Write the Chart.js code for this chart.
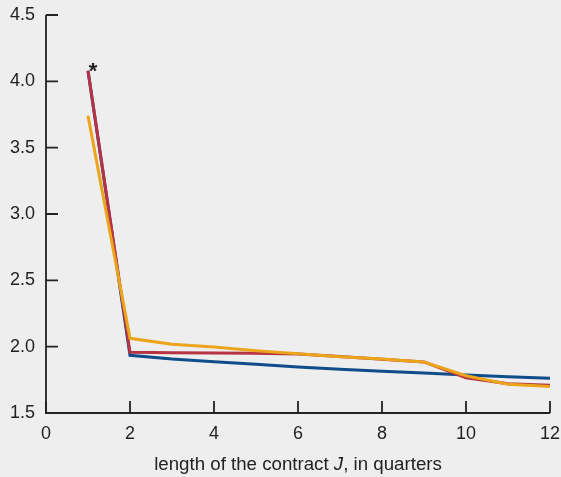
<!DOCTYPE html>
<html>
<head>
<meta charset="utf-8">
<script src="https://cdn.jsdelivr.net/npm/chart.js@4"></script>
<style>
html,body{margin:0;padding:0;background:#eeeeee;}
#wrap{width:561px;height:477px;position:relative;}
</style>
</head>
<body>
<div id="wrap"><canvas id="c" width="561" height="477"></canvas></div>
<script>
const quarters = [1, 2, 3, 4, 5, 6, 7, 8, 9, 10, 11, 12];
const blueSeries   = [4.08, 1.935, 1.907, 1.887, 1.867, 1.847, 1.829, 1.814, 1.801, 1.786, 1.774, 1.762];
const redSeries    = [4.08, 1.957, 1.955, 1.952, 1.950, 1.945, 1.925, 1.905, 1.885, 1.766, 1.720, 1.710];
const yellowSeries = [3.74, 2.063, 2.018, 1.997, 1.970, 1.947, 1.924, 1.907, 1.884, 1.781, 1.716, 1.700];
const xTicks = [0, 2, 4, 6, 8, 10, 12];
const yTicks = [1.5, 2.0, 2.5, 3.0, 3.5, 4.0, 4.5];
const xTitleParts = ['length of the contract ', 'J', ', in quarters'];
const markerText = '*';

const FONT = '"Liberation Sans", Arial, sans-serif';
const toPts = arr => quarters.map((q, i) => ({x: q, y: arr[i]}));

const inwardTicks = {
  id: 'inwardTicks',
  afterDraw(chart) {
    const {ctx, scales: {x, y}, chartArea: a} = chart;
    ctx.save();
    ctx.strokeStyle = '#222';
    ctx.lineWidth = 1.8;
    ctx.beginPath();
    xTicks.forEach(v => { const px = x.getPixelForValue(v); ctx.moveTo(px, a.bottom); ctx.lineTo(px, a.bottom - 12); });
    yTicks.forEach(v => { const py = y.getPixelForValue(v); ctx.moveTo(a.left, py); ctx.lineTo(a.left + 12, py); });
    ctx.stroke();
    ctx.beginPath();
    ctx.moveTo(a.left, a.top); ctx.lineTo(a.left, a.bottom); ctx.lineTo(a.right, a.bottom);
    ctx.stroke();
    // asterisk
    ctx.fillStyle = '#222';
    ctx.font = 'bold 22px ' + FONT;
    ctx.textAlign = 'center';
    ctx.textBaseline = 'alphabetic';
    ctx.fillText(markerText, x.getPixelForValue(1.12), y.getPixelForValue(4.07) + 6);
    // axis title with italic J
    const sz = '18.7px ';
    const fonts = [sz + FONT, 'italic ' + sz + FONT, sz + FONT];
    let total = 0;
    const widths = xTitleParts.map((t, i) => { ctx.font = fonts[i]; const w = ctx.measureText(t).width; total += w; return w; });
    let cx = 298 - total / 2;
    ctx.textAlign = 'left';
    xTitleParts.forEach((t, i) => { ctx.font = fonts[i]; ctx.fillText(t, cx, 470); cx += widths[i]; });
    ctx.restore();
  }
};

const bgPlugin = {
  id: 'bg',
  beforeDraw(chart) {
    const ctx = chart.ctx;
    ctx.save();
    ctx.fillStyle = '#eeeeee';
    ctx.fillRect(0, 0, chart.width, chart.height);
    ctx.restore();
  }
};

new Chart(document.getElementById('c'), {
  type: 'line',
  data: {
    datasets: [
      {label: 'yellow', data: toPts(yellowSeries), borderColor: '#eca51b', borderWidth: 3, pointRadius: 0, tension: 0, order: 1},
      {label: 'red', data: toPts(redSeries), borderColor: '#b73343', borderWidth: 3, pointRadius: 0, tension: 0, order: 2},
      {label: 'blue', data: toPts(blueSeries), borderColor: '#0f4c8a', borderWidth: 3, pointRadius: 0, tension: 0, order: 3}
    ]
  },
  options: {
    responsive: false,
    animation: false,
    layout: {padding: {top: 15, right: 11, left: 0, bottom: 0}},
    plugins: {legend: {display: false}, tooltip: {enabled: false}},
    scales: {
      x: {
        type: 'linear', min: 0, max: 12,
        afterBuildTicks: s => { s.ticks = xTicks.map(v => ({value: v})); },
        afterFit: s => { s.height = 64; s.paddingLeft = 0; s.paddingRight = 0; },
        grid: {display: false, drawTicks: false},
        border: {display: false},
        ticks: {padding: 10, color: '#222', font: {family: FONT, size: 18}, maxRotation: 0, callback: v => String(v)}
      },
      y: {
        type: 'linear', min: 1.5, max: 4.5,
        afterBuildTicks: s => { s.ticks = yTicks.map(v => ({value: v})); },
        afterFit: s => { s.width = 46; s.paddingTop = 0; s.paddingBottom = 0; },
        grid: {display: false, drawTicks: false},
        border: {display: false},
        ticks: {padding: 11, color: '#222', font: {family: FONT, size: 18}, callback: v => v.toFixed(1)}
      }
    }
  },
  plugins: [bgPlugin, inwardTicks]
});
</script>
</body>
</html>
